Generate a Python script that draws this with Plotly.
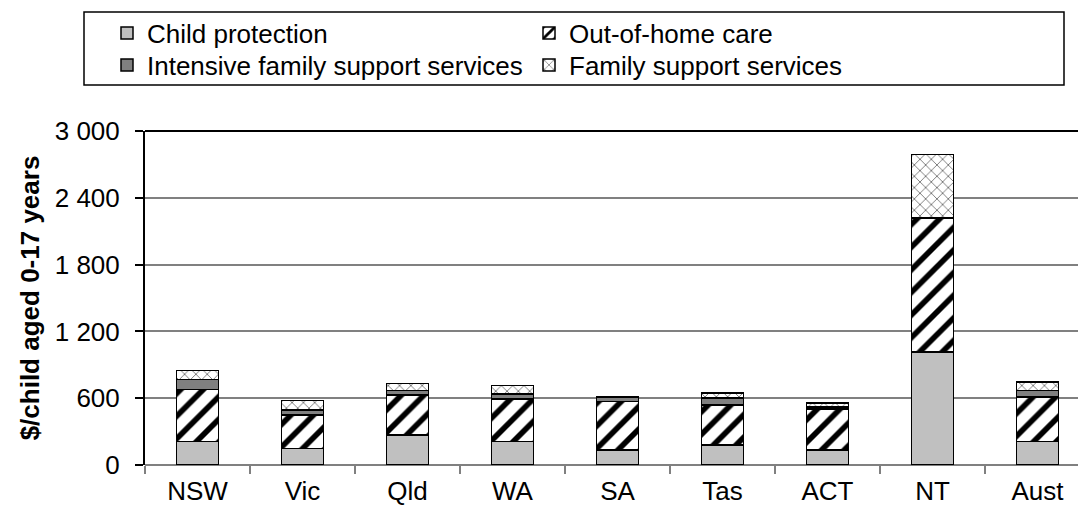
import plotly.graph_objects as go

categories = ["NSW", "Vic", "Qld", "WA", "SA", "Tas", "ACT", "NT", "Aust"]
child_protection = [210, 150, 270, 213, 135, 180, 135, 1013, 210]
out_of_home_care = [469, 298, 361, 382, 436, 358, 367, 1205, 400]
intensive_family_support = [88, 48, 39, 45, 39, 63, 18, 0, 60]
family_support = [84, 84, 60, 75, 6, 45, 36, 572, 75]
y_ticks = [0, 600, 1200, 1800, 2400, 3000]

FONT = "Liberation Sans, Arial, sans-serif"
FS = 26
line = dict(color="black", width=1.5)

fig = go.Figure()
fig.add_trace(go.Bar(name="Child protection", x=categories, y=child_protection,
                     marker=dict(color="#c0c0c0", line=line), legend="legend"))
fig.add_trace(go.Bar(name="Out-of-home care", x=categories, y=out_of_home_care,
                     marker=dict(color="white", line=line,
                                 pattern=dict(shape="/", fgcolor="black", bgcolor="white",
                                              fgopacity=1, size=16, solidity=0.35,
                                              fillmode="replace")),
                     legend="legend"))
fig.add_trace(go.Bar(name="Intensive family support services", x=categories, y=intensive_family_support,
                     marker=dict(color="#808080", line=line), legend="legend2"))
fig.add_trace(go.Bar(name="Family support services", x=categories, y=family_support,
                     marker=dict(color="white", line=line,
                                 pattern=dict(shape="x", fgcolor="black", bgcolor="white",
                                              fgopacity=1, size=8, solidity=0.12,
                                              fillmode="replace")),
                     legend="legend2"))

legend_common = dict(orientation="h", xref="container", yref="container",
                     xanchor="left", yanchor="middle", entrywidthmode="pixels", entrywidth=377,
                     font=dict(family=FONT, size=FS, color="black"),
                     bgcolor="rgba(0,0,0,0)", borderwidth=0, traceorder="normal")

fig.update_layout(
    width=1078, height=506,
    barmode="stack", bargap=0.6,
    paper_bgcolor="white", plot_bgcolor="white",
    margin=dict(l=145, r=0, t=131, b=41, autoexpand=False),
    separators=". ",
    font=dict(family=FONT, size=FS, color="black"),
    legend=dict(x=107 / 1078, y=1 - 33 / 506, **legend_common),
    legend2=dict(x=107 / 1078, y=1 - 65 / 506, **legend_common),
    xaxis=dict(type="category", range=[-0.5, 8.386], tickson="boundaries",
               ticks="outside", ticklen=8, tickcolor="#808080", tickwidth=1.5,
               showline=False, showgrid=False, ticklabelstandoff=8,
               tickfont=dict(family=FONT, size=FS, color="black")),
    yaxis=dict(range=[0, 3000], tickvals=y_ticks, tickformat=",d",
               showgrid=True, gridcolor="#808080", gridwidth=1.5,
               zeroline=True, zerolinecolor="#808080", zerolinewidth=1.5,
               showline=True, linecolor="black", linewidth=2,
               ticks="outside", ticklen=8, tickcolor="black", tickwidth=1.5,
               ticklabelstandoff=10,
               tickfont=dict(family=FONT, size=FS, color="black"),
               title=dict(text="<b>$/child aged 0-17 years</b>", standoff=8,
                          font=dict(family=FONT, size=FS, color="black"))),
    shapes=[
        dict(type="line", xref="paper", yref="paper", x0=0, x1=1, y0=1, y1=1,
             line=dict(color="black", width=2), layer="above"),
        dict(type="rect", xref="paper", yref="paper",
             x0=(84 - 145) / 933, x1=(1064 - 145) / 933,
             y0=(465 - 85) / 334, y1=(465 - 12) / 334,
             line=dict(color="black", width=1.5), fillcolor="rgba(0,0,0,0)"),
    ],
)

fig.write_html("out.html", config={"displayModeBar": False},
               post_script="document.body.style.margin='0';")
